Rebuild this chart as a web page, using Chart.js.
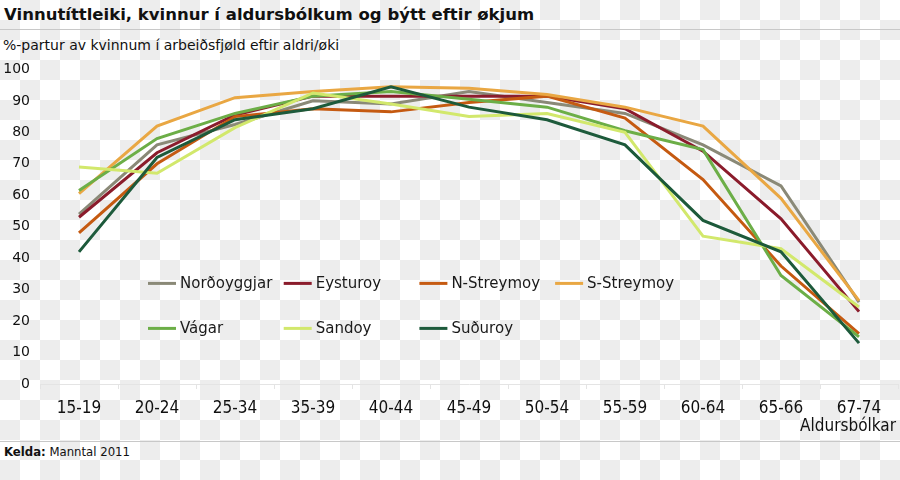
<!DOCTYPE html>
<html>
<head>
<meta charset="utf-8">
<script src="https://cdn.jsdelivr.net/npm/chart.js@4"></script>
<style>
    html, body { margin: 0; padding: 0; }
    body {
        width: 900px; height: 480px; position: relative; overflow: hidden;
        background: repeating-conic-gradient(#ededed 0 25%, #ffffff 0 50%) 0 0 / 40px 40px;
        font-family: 'DejaVu Sans', Verdana, sans-serif; color: #111;
    }
    .titel { position: absolute; left: 4px; top: 5px; font-size: 16.5px; font-weight: bold; }
    .strikur { position: absolute; left: 0; width: 900px; height: 0; border-top: 1px solid #c8c8c8; }
    .undirtitel { position: absolute; left: 3px; top: 37px; font-size: 14px; }
    .aldur { position: absolute; right: 4px; top: 415px; font-family: 'DejaVu Sans Condensed', 'DejaVu Sans', sans-serif; font-size: 17px; }
    .kelda { position: absolute; left: 4px; top: 444px; font-family: 'DejaVu Sans Condensed', 'DejaVu Sans', sans-serif; font-size: 13px; }
    #kassi { position: absolute; left: 0; top: 51px; width: 900px; height: 389px; }
</style>
</head>
<body>
<div class="titel">Vinnutíttleiki, kvinnur í aldursbólkum og býtt eftir økjum</div>
<div class="strikur" style="top:29px"></div>
<div class="undirtitel">%-partur av kvinnum í arbeiðsfjøld eftir aldri/øki</div>
<div id="kassi"><canvas id="graf"></canvas></div>
<div class="aldur">Aldursbólkar</div>
<div class="strikur" style="top:441px"></div>
<div class="kelda"><b>Kelda:</b> Manntal 2011</div>

<script>
// Aldursbólkar og virði (%)
const aldursbolkar = ['15-19', '20-24', '25-34', '35-39', '40-44', '45-49', '50-54', '55-59', '60-64', '65-66', '67-74'];
const yTicks = [0, 10, 20, 30, 40, 50, 60, 70, 80, 90, 100];

const nordoyggjar = [54, 76, 82.5, 90, 89, 93, 89.5, 86, 76, 63, 26];
const eysturoy = [53, 73.5, 85.5, 91.5, 91.5, 91.5, 91.5, 87.5, 74, 52.5, 23];
const nStreymoy = [48, 70, 85, 87.5, 86.5, 89.5, 91.5, 84.5, 65, 37.5, 16];
const sStreymoy = [60.5, 82, 91, 93, 94.5, 94, 92, 88, 82, 59, 26.5];
const vagar = [61.5, 78, 86, 91.5, 93, 90.5, 88, 80.5, 74.5, 34.5, 15];
const sandoy = [69, 67, 81.5, 92.5, 89, 85, 86, 80, 47, 43, 24.5];
const suduroy = [42, 72, 84, 87.5, 94.5, 88, 84, 76, 52, 42, 13];

const okir = ['Norðoyggjar', 'Eysturoy', 'N-Streymoy', 'S-Streymoy', 'Vágar', 'Sandoy', 'Suðuroy'];
const litir = ['#8a8977', '#8b1c2c', '#c55a11', '#e9a743', '#6cae47', '#d2e86c', '#1d5a3b'];
const virdi = [nordoyggjar, eysturoy, nStreymoy, sStreymoy, vagar, sandoy, suduroy];

// Legend teknað inni í grafinum, tvær røðir
const legendPlugin = {
    id: 'innLegend',
    afterDatasetsDraw(chart) {
        const ctx = chart.ctx;
        const a = chart.chartArea;
        ctx.save();
        ctx.font = '15px "DejaVu Sans", Verdana, sans-serif';
        ctx.textBaseline = 'middle';
        chart.data.datasets.forEach(function(ds, i) {
            const col = i % 4;
            const row = Math.floor(i / 4);
            const x = a.left + 108 + col * 135.7;
            const y = a.top + 214 + row * 45;
            ctx.strokeStyle = ds.borderColor;
            ctx.lineWidth = 3;
            ctx.beginPath();
            ctx.moveTo(x, y);
            ctx.lineTo(x + 28, y);
            ctx.stroke();
            ctx.fillStyle = '#1a1a1a';
            ctx.fillText(ds.label, x + 32, y + 1);
        });
        ctx.restore();
    }
};

new Chart(document.getElementById('graf'), {
    type: 'line',
    data: {
        labels: aldursbolkar,
        datasets: okir.map(function(navn, i) {
            return {
                label: navn,
                data: virdi[i],
                borderColor: litir[i],
                backgroundColor: litir[i],
                borderWidth: 3,
                pointRadius: 0,
                tension: 0,
                order: 7 - i
            };
        })
    },
    options: {
        responsive: true,
        maintainAspectRatio: false,
        animation: false,
        layout: { padding: { top: 8, right: 2, left: 0, bottom: 0 } },
        plugins: {
            legend: { display: false },
            tooltip: { enabled: false }
        },
        scales: {
            x: {
                offset: true,
                grid: { display: true, offset: true, drawOnChartArea: false, tickLength: 5, color: '#e4e4e4' },
                border: { color: '#e4e4e4' },
                ticks: {
                    padding: 9,
                    color: '#111',
                    maxRotation: 0,
                    font: { family: '"DejaVu Sans Condensed", "DejaVu Sans", sans-serif', size: 17 }
                },
                afterFit: function(s) { s.height = 56; }
            },
            y: {
                min: 0,
                max: 100,
                afterBuildTicks: function(s) { s.ticks = yTicks.map(v => ({ value: v })); },
                grid: { display: false, drawTicks: false },
                border: { display: false },
                ticks: {
                    padding: 10,
                    color: '#111',
                    font: { family: '"DejaVu Sans", Verdana, sans-serif', size: 14 }
                },
                afterFit: function(s) { s.width = 40; }
            }
        }
    },
    plugins: [legendPlugin]
});
</script>
</body>
</html>
